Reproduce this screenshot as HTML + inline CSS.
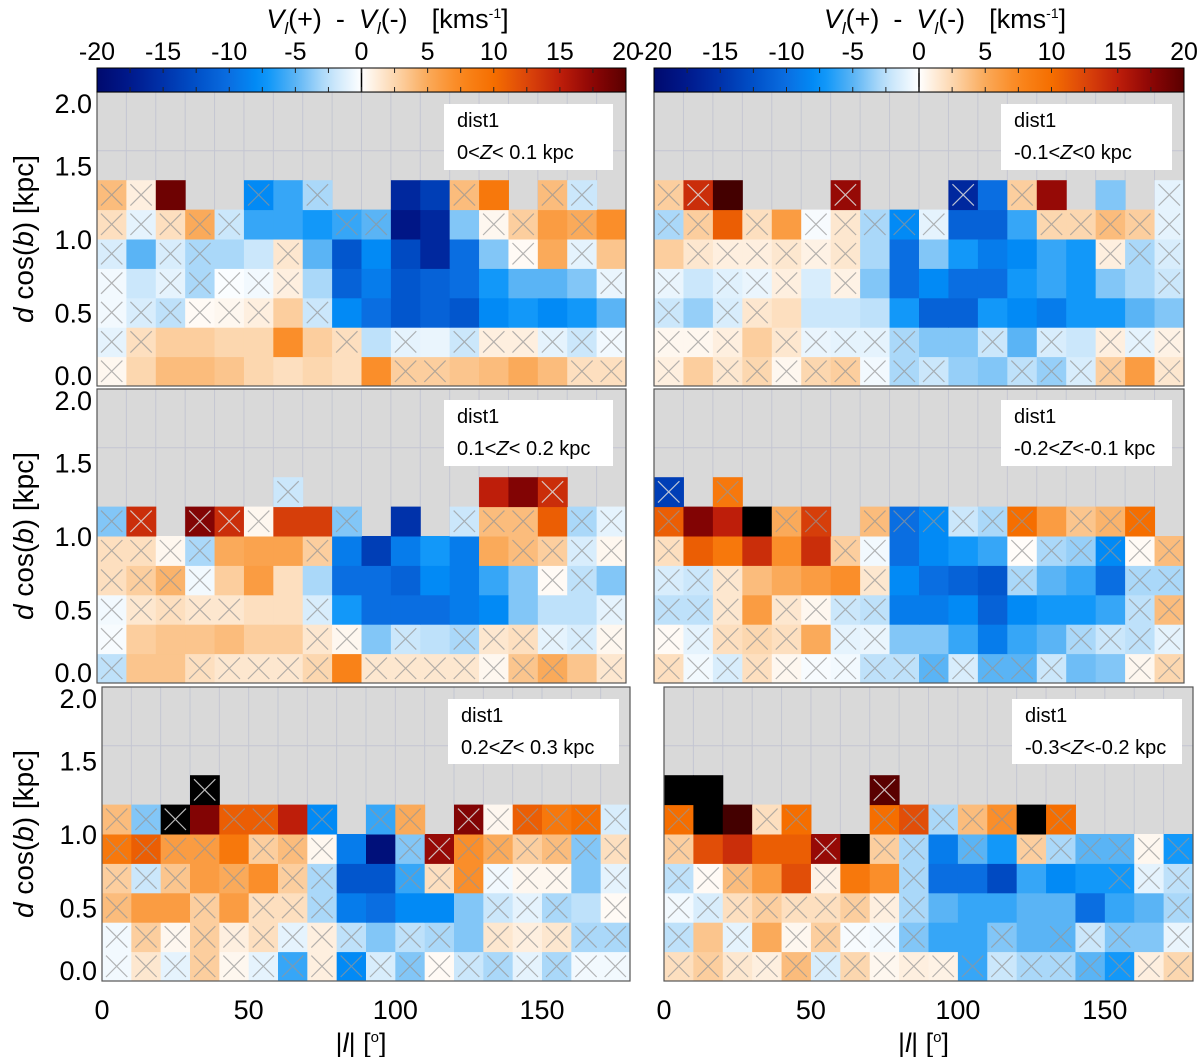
<!DOCTYPE html>
<html><head><meta charset="utf-8"><style>
html,body{margin:0;padding:0;background:#fff;}
svg{display:block;font-family:"Liberation Sans",sans-serif;}
</style></head><body>
<svg id="fig" width="1200" height="1057" viewBox="0 0 1200 1057" xmlns="http://www.w3.org/2000/svg"></svg>
<script>
const n = null;
const lBins = [0,10,20,30,40,50,60,70,80,90,100,110,120,130,140,150,160,170];
const dBins = [0,0.2,0.4,0.6,0.8,1.0,1.2];
const cbTicks = [-20,-15,-10,-5,0,5,10,15,20];
const yTicks = [0,0.5,1.0,1.5,2.0];
const xTicks = [0,50,100,150];
// panel rows from bottom (0-0.2) upward
const valsTL = [[0.5,2.5,4,4,3.5,2.5,2,2.5,2,7,3,3,3.5,4,5,4,2,2],[-1,2,3,3,2.5,2.5,7,3,2,-2.5,-1,-0.8,-2,1,1,-1,-2,-0.5],[-0.5,-1.5,-2.5,0.3,0.5,1,3,-2,-8,-10,-12,-11,-12,-8,-7,-8,-7,-5],[-0.5,-2,-1,-3,-0.2,-0.5,1,-3,-11,-9,-12,-11,-10,-7,-5,-5,-4,-0.8],[-1.5,-5,-1.5,-3,-3,-2,1.5,-5,-12,-8,-13,-16,-10,-4,0.3,5,-1,3.5],[2,-1,2,5,-2,-6,-6,-7,-6,-5,-18,-16,-4,0.5,3,6,5,7],[4,1,19,n,n,-8,-6,-3,n,n,-16,-14,4,9,n,4,-2,n]];
const crossTL = ["100000000011000011","110000001010111111","111111010000000000","101111100000000001","101100100000001010","111110001100011010","110001010000100110"];
const valsTR = [[1,3,1.5,2.5,0.5,2.5,3,-0.5,-3,-2,-3.5,-4,-2.5,-3.5,-1.5,3,6,1.5],[0.5,0.5,1,3,1.5,-0.8,-1,-1,-3,-4,-4,-2,-5,-1.5,-2,1,-1,0.8],[-2,-3.5,-1.5,1.5,2,-2,-2,-2.5,-7,-11,-11,-7,-8,-9,-7,-7,-5,-4],[-0.8,-2,-1.2,-0.8,1,-1.5,0.8,-4,-10,-8,-10,-10,-7,-6,-7,-4,-3,-2],[3,1.5,1,1,1.5,0.8,1.5,-3,-10,-4,-7,-9,-8,-6,-7,1,-3,-1.5],[-3,3,11,2,6,-0.3,1.5,-3,-8,-1,-11,-11,-6,2.5,2.5,4,3,-1],[3,14,21,n,n,n,17,n,n,n,-16,-10,3,17,n,-4,n,-1]];
const crossTR = ["101111111100111101","111011111001010111","101100000000000000","101110100000000001","011111100000000111","110101111100011111","110000100010100001"];
const valsML = [[-2.5,3.5,3.5,2,1.5,1.5,1.5,2.5,8,1.5,1.5,1.5,1.5,0.5,3.5,5,3.5,1.5],[-0.3,3,3.5,3.5,4,3,3,1.5,0.5,-4,-2,-2.5,-3,1.5,2,-1,-1.5,0.5],[-0.5,1.5,2,1.5,1.5,2,2,-1.5,-7,-10,-10,-10,-9,-8,-4,-2.5,-2.5,-1],[2,3,4.5,-0.5,3,6,2,-3,-10,-10,-11,-8,-9,-6,-4,0.3,-2.5,-4],[2,2,0.5,-3,5,5.5,5.5,3,-9,-14,-9,-7,-9,5,4,3,-1.5,0.5],[-4,14,n,18,14,0.5,13,13,-4,n,-15,n,-2,4,4,11,-3,-1],[n,n,n,n,n,n,-2,n,n,n,n,n,n,15,18,14,n,n]];
const crossML = ["100111110111111101","100000011010111111","111110010000000001","111100000000000110","111100010000001111","110111001000111011","000000100000000100"];
const valsMR = [[2,-0.5,-1.5,2,0.5,-0.3,-0.5,-2.5,-2.5,-5,-1.5,-5,-5,-2,-4.5,-4,0.5,2.5],[0.3,-1,2,2.5,2,5,-1,-0.8,-4,-4,-6,-9,-6,-5,-3,-2,-2.5,-1],[-2.5,-2.5,1.5,6,1.5,0.5,-2,-2.5,-9,-9,-8,-11,-8,-7,-7,-6,-2.5,4],[-1.5,-2,1.5,4,5,6,7,1.5,-8,-10,-11,-12,-3,-5,-6,-10,-3,-3],[2,11,9,14,7,14,3,-0.5,-10,-8,-7,-6,0.2,-3,-3.5,-8,0.3,4],[11,18,15,25,5,13,n,4,-10,-8,-2,-3,10,6,3.5,4.5,10,n],[-14,n,9,n,n,n,n,n,n,n,n,n,n,n,n,n,n,n]];
const crossMR = ["111111111111110011","111110110000001111","111011110000000011","111000010000100011","100000110000111111","100011011111101110","101000000000000000"];
const valsBL = [[-0.5,1.5,-1,3,0.5,-1,-6,1,-8,-1.5,-4,0.3,-2,-3,-1,-3,-0.5,-0.5],[-0.5,3,0.5,3,1,2,-1,1,-2.5,-4,-2.5,-3,-4,1.5,1,1.5,-3,-3],[4,6,6,3,6,2,2,-3,-9,-10,-8,-8,-4,-2,-1,-3,-2.5,0.3],[3,-2,3.5,6,5,7,3,-3,-12,-12,-6,2,7,-0.5,0.5,0.5,-4,-1],[9,11,6,6,9,3,4,0.5,-9,-19,-4,17,7,5,3,4,-4,2],[4,-4,25,18,11,11,15,-8,n,-6,5,n,18,0.5,11,9,10,-1.5],[n,n,n,25,n,n,n,n,n,n,n,n,n,n,n,n,n,n]];
const crossBL = ["111111111111111111","111111111011011111","100101110000011101","111010110011111101","111101110011111111","111011010110111111","000100000000000000"];
const valsBR = [[2,3,1.5,1,4,-1.5,2.5,0.5,1,0.8,-6,-2,-3,-3,-5,-7,1,2.5],[-2.5,3.5,-1,5,0.5,3,-0.3,-0.5,-4,-6,-6,-4,-5,-5,-2,-4,-4,-0.8],[-0.5,-1.5,2,3,2,2,3,1,-3,-5,-6,-6,-5,-5,-10,-6,-5,-3],[-2.5,0.3,4,6,12,0.8,9,7,-3,-10,-10,-13,-6,-8,-7,-7,-1,-2.5],[3,12,14,11,11,17,25,3,-3,-9,-5,-7,3,-3,-5,-5,0.5,-7],[10,25,21,2,10,n,n,10,12,-3,4,7,25,10,n,n,n,n],[25,25,n,n,n,n,n,20,n,n,n,n,n,n,n,n,n,n]];
const crossBR = ["111111111111111111","101011111001011101","111111111000000001","111001001000000111","100001011010111111","100110011111010000","000000010000000000"];

const cmap = [[-20,0,10,110],[-17.5,0,25,140],[-15,0,50,170],[-12.5,0,80,200],[-10,10,110,225],[-7.5,0,145,250],[-5,90,180,245],[-2.5,190,225,250],[0,255,255,255],[2.5,252,215,175],[5,250,170,90],[7.5,250,135,30],[10,245,110,0],[12.5,220,70,10],[15,190,30,10],[17.5,140,5,5],[20,90,0,0],[22,45,0,0],[25,0,0,0]];
function color(v){
  if(v<=cmap[0][0]) return `rgb(${cmap[0][1]},${cmap[0][2]},${cmap[0][3]})`;
  for(let i=1;i<cmap.length;i++){
    if(v<=cmap[i][0]){const a=cmap[i-1],b=cmap[i],t=(v-a[0])/(b[0]-a[0]);
      return `rgb(${Math.round(a[1]+t*(b[1]-a[1]))},${Math.round(a[2]+t*(b[2]-a[2]))},${Math.round(a[3]+t*(b[3]-a[3]))})`;}
  }
  return 'rgb(0,0,0)';
}
const NS='http://www.w3.org/2000/svg';
const svg=document.getElementById('fig');
function mk(tag,attrs,parent){const e=document.createElementNS(NS,tag);for(const k in attrs)e.setAttribute(k,attrs[k]);(parent||svg).appendChild(e);return e;}

const panels=[
 {id:'top-left',x0:97,x1:626,y0:92,y1:386,vals:valsTL,cross:crossTL,z:'0<',z2:'< 0.1 kpc',box:[444,104,169,66],ylab:true,xlab:false},
 {id:'top-right',x0:654,x1:1184,y0:92,y1:386,vals:valsTR,cross:crossTR,z:'-0.1<',z2:'<0 kpc',box:[1001,104,171,66],ylab:false,xlab:false},
 {id:'middle-left',x0:97,x1:626,y0:389,y1:683,vals:valsML,cross:crossML,z:'0.1<',z2:'< 0.2 kpc',box:[444,400,169,66],ylab:true,xlab:false},
 {id:'middle-right',x0:654,x1:1184,y0:389,y1:683,vals:valsMR,cross:crossMR,z:'-0.2<',z2:'<-0.1 kpc',box:[1001,400,171,66],ylab:false,xlab:false},
 {id:'bottom-left',x0:102,x1:630,y0:687,y1:981,vals:valsBL,cross:crossBL,z:'0.2<',z2:'< 0.3 kpc',box:[448,699,171,65],ylab:true,xlab:true},
 {id:'bottom-right',x0:664,x1:1193,y0:687,y1:981,vals:valsBR,cross:crossBR,z:'-0.3<',z2:'<-0.2 kpc',box:[1012,699,170,65],ylab:false,xlab:true}
];

panels.forEach(p=>{
  const g=mk('g',{});
  
  
  const X=l=>p.x0+(l/180)*(p.x1-p.x0);
  const Y=d=>p.y1-(d/2.0)*(p.y1-p.y0);
  const bg=mk('rect',{x:p.x0,y:p.y0,width:p.x1-p.x0,height:p.y1-p.y0,fill:'#d9d9d9'},g);
  
  
  lBins.forEach(l=>{ if(l>0) mk('line',{x1:X(l),x2:X(l),y1:p.y0,y2:p.y1,stroke:'#c4c6d2','stroke-width':1},g); });
  [1.6].forEach(d=>mk('line',{x1:p.x0,x2:p.x1,y1:Y(d),y2:Y(d),stroke:'#c4c6d2','stroke-width':1},g));
  p.vals.forEach((row,ri)=>{
    row.forEach((v,ci)=>{
      if(v===null) return;
      const xa=X(lBins[ci]),xb=X(lBins[ci]+10),ya=Y(dBins[ri]+0.2),yb=Y(dBins[ri]);
      const c=mk('rect',{x:xa,y:ya,width:xb-xa+0.5,height:yb-ya+0.5,fill:color(v)},g);
      
      
      if(p.cross[ri][ci]==='1'){
        const st=Math.abs(v)>=14?'rgba(220,220,220,0.85)':'rgba(150,150,150,0.7)';
        mk('path',{d:`M${xa+4} ${ya+4}L${xb-4} ${yb-4}M${xb-4} ${ya+4}L${xa+4} ${yb-4}`,stroke:st,'stroke-width':1.2,fill:'none'},g);
      }
    });
  });
  mk('rect',{x:p.x0,y:p.y0,width:p.x1-p.x0,height:p.y1-p.y0,fill:'none',stroke:'#555','stroke-width':1.2},g);
  const b=p.box;
  const lb=mk('rect',{x:b[0],y:b[1],width:b[2],height:b[3],fill:'#fff'},g);
  
  
  const t1=mk('text',{x:b[0]+13,y:b[1]+23,'font-size':20,fill:'#000'},g);
  t1.textContent='dist1';
  const t2=mk('text',{x:b[0]+13,y:b[1]+55,'font-size':20,fill:'#000'},g);
  
  
  t2.innerHTML=p.z+'<tspan font-style="italic">Z</tspan>'+p.z2;
  if(p.ylab){
    yTicks.forEach(d=>{
      let yy=Y(d)+10; if(d===2.0) yy+=11; if(d===0) yy-=11;
      const t=mk('text',{x:p.x0-5,y:yy,'font-size':27,'text-anchor':'end'},g);
      
      
      t.textContent=d.toFixed(1);
    });
    const yt=mk('text',{x:0,y:0,'font-size':28,'text-anchor':'middle',transform:`translate(33,${(p.y0+p.y1)/2}) rotate(-90)`},g);
    
    
    yt.innerHTML='<tspan font-style="italic">d</tspan> cos(<tspan font-style="italic">b</tspan>)  [kpc]';
  }
  if(p.xlab){
    xTicks.forEach(l=>{
      const t=mk('text',{x:X(l),y:1019,'font-size':27,'text-anchor':'middle'},g);
      
      
      t.textContent=l;
    });
    const xt=mk('text',{x:(p.x0+p.x1)/2-5,y:1052,'font-size':27,'text-anchor':'middle'},g);
    
    
    xt.innerHTML='|<tspan font-style="italic">l</tspan>| [<tspan font-size="15" dy="-10">o</tspan><tspan dy="10">]</tspan>';
  }
});

// colorbars
const defs=mk('defs',{});
const grad=mk('linearGradient',{id:'cbgrad',x1:'0',x2:'1',y1:'0',y2:'0'},defs);
for(let v=-20;v<=20;v+=1){ mk('stop',{offset:((v+20)/40).toFixed(4),'stop-color':color(v)},grad); }
[[97,626],[654,1184]].forEach((c,i)=>{
  const g=mk('g',{});
  
  
  const CX=v=>c[0]+(v+20)/40*(c[1]-c[0]);
  mk('rect',{x:c[0],y:68,width:c[1]-c[0],height:24,fill:'url(#cbgrad)',stroke:'#000','stroke-width':1},g);
  mk('line',{x1:CX(0),x2:CX(0),y1:68,y2:92,stroke:'#000','stroke-width':1.5},g);
  for(let v=-17.5;v<20;v+=2.5){
    mk('line',{x1:CX(v),x2:CX(v),y1:68,y2:73,stroke:'#222','stroke-width':1},g);
    mk('line',{x1:CX(v),x2:CX(v),y1:87,y2:92,stroke:'#222','stroke-width':1},g);
  }
  cbTicks.forEach(v=>{
    const t=mk('text',{x:CX(v),y:60,'font-size':25,'text-anchor':'middle'},g);
    
    
    t.textContent=v;
  });
  const tt=mk('text',{x:CX(0)+26,y:28,'font-size':27,'text-anchor':'middle','xml:space':'preserve'},g);
  
  
  tt.innerHTML='<tspan font-style="italic">V</tspan><tspan font-style="italic" font-size="17" dy="6">l</tspan><tspan dy="-6">(+)</tspan><tspan dx="14">-</tspan><tspan dx="14" font-style="italic">V</tspan><tspan font-style="italic" font-size="17" dy="6">l</tspan><tspan dy="-6">(-)</tspan><tspan dx="24">[kms</tspan><tspan font-size="14" dy="-10">-1</tspan><tspan dy="10">]</tspan>';
});
</script>
</body></html>
